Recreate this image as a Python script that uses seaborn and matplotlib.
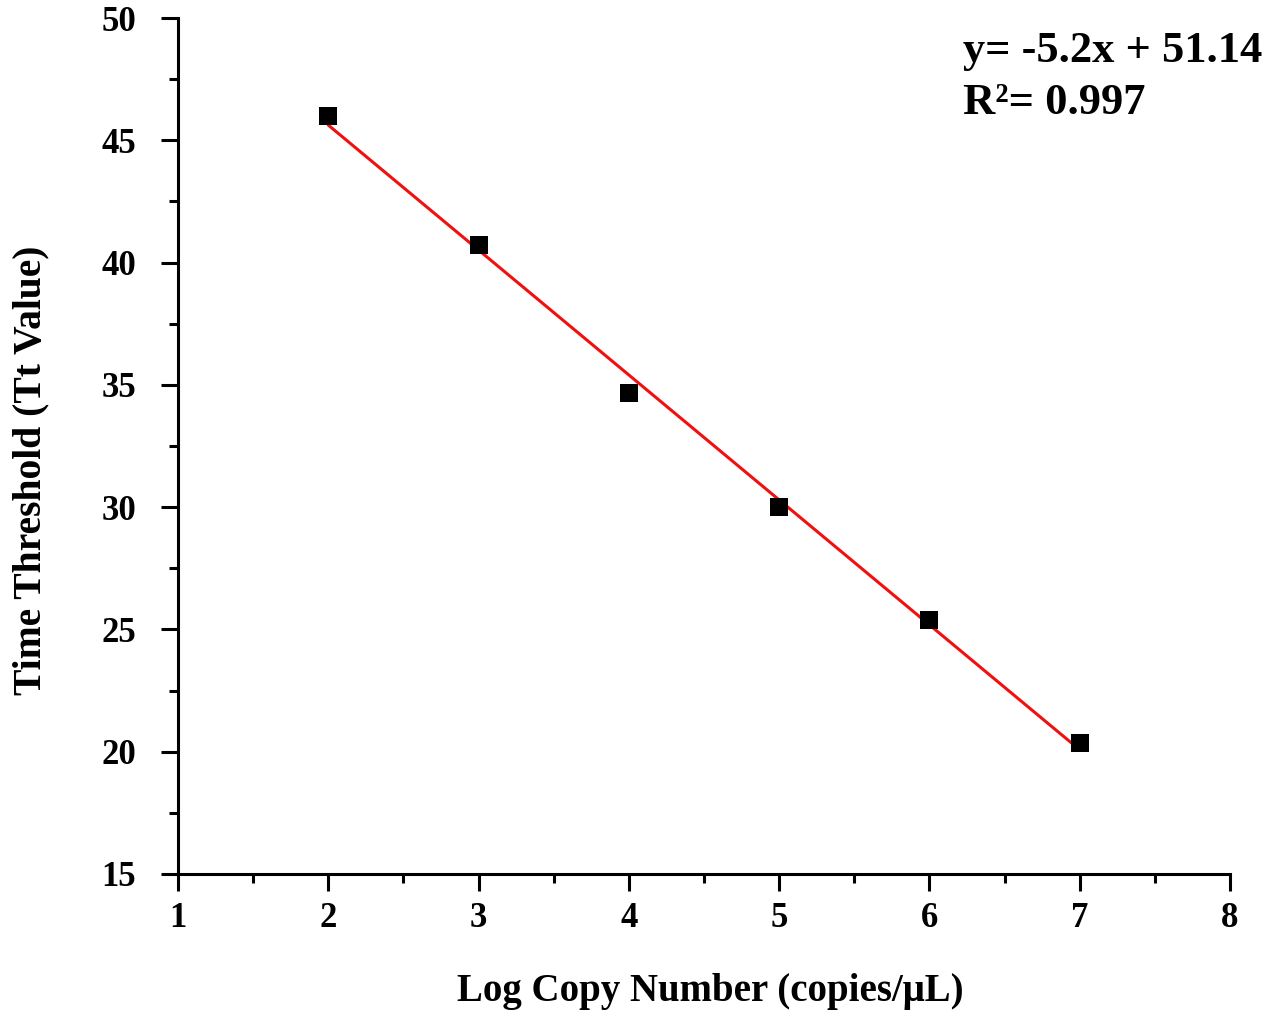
import numpy as np
import matplotlib
matplotlib.use("Agg")
import matplotlib.pyplot as plt
import seaborn as sns
from matplotlib.ticker import MultipleLocator

# values
log_copies = [2, 3, 4, 5, 6, 7]
tt_value = [46.0, 40.7, 34.65, 30.0, 25.4, 20.35]
eq_text = "y= -5.2x + 51.14"
r2_text = "R\u00b2= 0.997"

sns.set_style("ticks")
plt.rcParams['font.family'] = ['Liberation Serif', 'DejaVu Serif']
plt.rcParams['font.weight'] = 'bold'
plt.rcParams['text.color'] = 'black'
plt.rcParams['axes.labelcolor'] = 'black'
plt.rcParams['xtick.color'] = 'black'
plt.rcParams['ytick.color'] = 'black'

fig = plt.figure(figsize=(12.67, 10.18), dpi=100)
ax = fig.add_axes([178/1267, 1-874/1018, (1230-178)/1267, (874-18)/1018])

sns.regplot(x=log_copies, y=tt_value, ax=ax, ci=None, marker='s',
            scatter_kws={'s': 150, 'color': 'black', 'alpha': 1, 'linewidths': 0, 'zorder': 3},
            line_kws={'color': '#f01010', 'lw': 2.2, 'zorder': 2})

ax.set_xlim(1, 8)
ax.set_ylim(15, 50)
ax.xaxis.set_major_locator(MultipleLocator(1))
ax.xaxis.set_minor_locator(MultipleLocator(0.5))
ax.yaxis.set_major_locator(MultipleLocator(5))
ax.yaxis.set_minor_locator(MultipleLocator(2.5))
sns.despine(ax=ax)
for s in ['left', 'bottom']:
    ax.spines[s].set_linewidth(2.2)
    ax.spines[s].set_color('black')
ax.tick_params(which='major', direction='out', length=12, width=2.2, color='black',
               labelsize=25, labelcolor='black')
ax.tick_params(which='minor', direction='out', length=6.5, width=2.2, color='black')
ax.tick_params(axis='y', which='major', pad=18)
ax.tick_params(axis='x', which='major', pad=8)
for lab in ax.get_xticklabels() + ax.get_yticklabels():
    lab.set_fontweight('bold')

ax.set_xlabel("Log Copy Number (copies/\u03bcL)", fontsize=28, fontweight='bold')
ax.set_ylabel("Time Threshold (Tt Value)", fontsize=28.5, fontweight='bold')
ax.xaxis.set_label_coords(0.506, -0.116)
ax.yaxis.set_label_coords(-0.122, 0.472)

fig.text(963/1267, 1-62/1018, eq_text, fontsize=32, fontweight='bold', va='baseline')
fig.text(963/1267, 1-114/1018, r2_text, fontsize=32, fontweight='bold', va='baseline')

fig.savefig("out.png", dpi=100)
